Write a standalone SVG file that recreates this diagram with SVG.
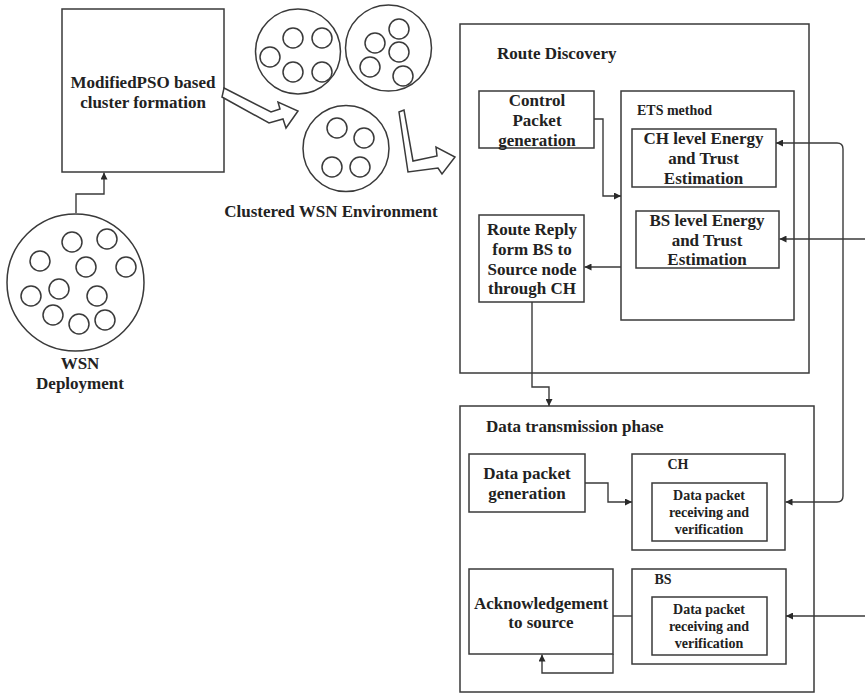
<svg xmlns="http://www.w3.org/2000/svg" width="865" height="694" viewBox="0 0 865 694">
<style>
.box{fill:#fff;stroke:#3a3a3a;stroke-width:1.5}
.c{fill:none;stroke:#3a3a3a;stroke-width:1.5}
.ln{fill:none;stroke:#3a3a3a;stroke-width:1.4}
.blk{fill:#fff;stroke:#3a3a3a;stroke-width:1.5;stroke-linejoin:miter}
text{font-family:"Liberation Serif","Times New Roman",serif;font-weight:bold;fill:#222}
.m{text-anchor:middle}
.f17{font-size:17px}
.f16{font-size:16px}
.f14{font-size:14px}
.f13{font-size:14px}
</style>
<defs>
<marker id="ah" viewBox="0 0 10 10" refX="10" refY="5" markerWidth="7" markerHeight="7" markerUnits="userSpaceOnUse" orient="auto-start-reverse">
<path d="M0,0 L10,5 L0,10 z" fill="#2a2a2a"/>
</marker>
</defs>
<rect width="865" height="694" fill="#fff"/>

<g id="wsn-deployment">
<circle class="c" cx="75.5" cy="282.5" r="68.5"/>
<circle class="c" cx="72" cy="242" r="10"/>
<circle class="c" cx="107" cy="239" r="10"/>
<circle class="c" cx="40" cy="261" r="10"/>
<circle class="c" cx="86" cy="267" r="10"/>
<circle class="c" cx="126" cy="267" r="10"/>
<circle class="c" cx="31" cy="296" r="10"/>
<circle class="c" cx="59" cy="289" r="10"/>
<circle class="c" cx="97" cy="296" r="10"/>
<circle class="c" cx="53" cy="315" r="10"/>
<circle class="c" cx="79" cy="324" r="10"/>
<circle class="c" cx="105" cy="320" r="10"/>
<text class="m f17" x="80" y="369">WSN</text>
<text class="m f17" x="80" y="389">Deployment</text>
</g>

<g id="pso">
<rect class="box" x="62" y="9" width="162" height="163"/>
<text class="m f17" x="143" y="88">ModifiedPSO based</text>
<text class="m f17" x="143" y="108">cluster formation</text>
</g>

<g id="clustered-wsn">
<circle class="c" cx="298" cy="51.5" r="42.5"/>
<circle class="c" cx="270" cy="57" r="10"/>
<circle class="c" cx="293" cy="38" r="10"/>
<circle class="c" cx="322" cy="38" r="10"/>
<circle class="c" cx="293" cy="72" r="10"/>
<circle class="c" cx="322" cy="72" r="10"/>
<circle class="c" cx="388.5" cy="48" r="43"/>
<circle class="c" cx="399" cy="29" r="10"/>
<circle class="c" cx="375" cy="43" r="10"/>
<circle class="c" cx="399" cy="52" r="10"/>
<circle class="c" cx="370" cy="67" r="10"/>
<circle class="c" cx="403" cy="76" r="10"/>
<circle class="c" cx="346" cy="148.5" r="43"/>
<circle class="c" cx="337" cy="128" r="10"/>
<circle class="c" cx="364" cy="138" r="10"/>
<circle class="c" cx="332" cy="167" r="10"/>
<circle class="c" cx="360" cy="167" r="10"/>
<text class="m f17" x="331" y="217">Clustered WSN Environment</text>
</g>

<g id="route-discovery">
<rect class="box" x="460" y="24" width="349" height="349"/>
<text class="f17" x="497" y="59">Route Discovery</text>
</g>
<g id="control-packet">
<rect class="box" x="479" y="91" width="115" height="57"/>
<text class="m f17" x="537" y="106">Control</text>
<text class="m f17" x="537" y="126">Packet</text>
<text class="m f17" x="537" y="146">generation</text>
</g>
<g id="ets-method">
<rect class="box" x="621" y="91" width="173" height="229"/>
<text class="f14" x="637" y="115">ETS method</text>
</g>
<g id="ch-level">
<rect class="box" x="632" y="129" width="144" height="58"/>
<text class="m f17" x="703.5" y="144">CH level Energy</text>
<text class="m f17" x="703.5" y="164">and Trust</text>
<text class="m f17" x="703.5" y="184">Estimation</text>
</g>
<g id="bs-level">
<rect class="box" x="636" y="211" width="143" height="57"/>
<text class="m f17" x="707" y="226">BS level Energy</text>
<text class="m f17" x="707" y="246">and Trust</text>
<text class="m f17" x="707" y="265">Estimation</text>
</g>
<g id="route-reply">
<rect class="box" x="479" y="215" width="105" height="87"/>
<text class="m f17" x="532" y="235">Route Reply</text>
<text class="m f17" x="532" y="255">form BS to</text>
<text class="m f17" x="532" y="275">Source node</text>
<text class="m f17" x="532" y="294">through CH</text>
</g>

<g id="data-transmission">
<rect class="box" x="460" y="406" width="354" height="286"/>
<text class="f17" x="486" y="432">Data transmission phase</text>
</g>
<g id="data-packet-generation">
<rect class="box" x="469" y="454" width="116" height="58"/>
<text class="m f17" x="527" y="479">Data packet</text>
<text class="m f17" x="527" y="499">generation</text>
</g>
<g id="ch">
<rect class="box" x="632" y="454" width="153" height="96"/>
<text class="m f14" x="678" y="469">CH</text>
<rect class="box" x="652" y="483" width="115" height="58"/>
<text class="m f13" x="709" y="500">Data packet</text>
<text class="m f13" x="709" y="517">receiving and</text>
<text class="m f13" x="709" y="534">verification</text>
</g>
<g id="acknowledgement">
<rect class="box" x="469" y="569" width="144" height="85"/>
<text class="m f17" x="541" y="609">Acknowledgement</text>
<text class="m f17" x="541" y="628">to source</text>
</g>
<g id="bs">
<rect class="box" x="632" y="569" width="154" height="95"/>
<text class="m f14" x="663" y="584">BS</text>
<rect class="box" x="652" y="597" width="115" height="58"/>
<text class="m f13" x="709" y="614">Data packet</text>
<text class="m f13" x="709" y="631">receiving and</text>
<text class="m f13" x="709" y="648">verification</text>
</g>

<g id="connectors">
<path class="ln" d="M76,213 V194 H104 V172.5" marker-end="url(#ah)"/>
<path class="blk" d="M224,88 L271,112 L280,109 L278,102 L298,111 L286,128 L283,119 L269,123 L222,97 Z"/>
<path class="blk" d="M399,112 L404,110 L413,161 L437,156 L436,147 L455,157 L442,174 L438,168 L408,172 Z"/>
<path class="ln" d="M594,119 H603 V196 H621" marker-end="url(#ah)"/>
<path class="ln" d="M621,267 H584.5" marker-end="url(#ah)"/>
<path class="ln" d="M776,143 H837 Q843,143 843,149 V496 Q843,502 837,502 H785.5" marker-start="url(#ah)" marker-end="url(#ah)"/>
<path class="ln" d="M865,239 H779.5" marker-end="url(#ah)"/>
<path class="ln" d="M532,302 V387 H549 V406" marker-end="url(#ah)"/>
<path class="ln" d="M585,483 H608 V502 H632" marker-end="url(#ah)"/>
<path class="ln" d="M865,616 H786" marker-end="url(#ah)"/>
<path class="ln" d="M613,616 H632"/>
<path class="ln" d="M613,654 V673 H542 V654.5" marker-end="url(#ah)"/>
</g>
</svg>
